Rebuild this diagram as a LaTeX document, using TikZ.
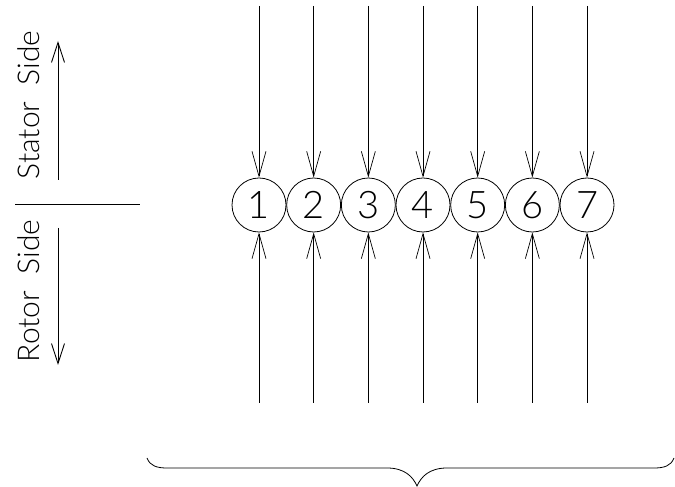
\documentclass[tikz,border=0pt]{standalone}
\usepackage{fontspec}
\setmainfont{Lato}[UprightFont=* Light, Numbers=Lining]
\usetikzlibrary{arrows.meta, positioning}

\tikzset{
  slot/.style={circle, draw, line width=0.8pt, minimum size=54pt, inner sep=0pt, font=\fontsize{38}{38}\selectfont},
  flux/.style={line width=0.7pt, -{Straight Barb[length=25pt, width=14pt, line width=0.7pt]}},
  side/.style={line width=0.9pt, -{Straight Barb[length=20pt, width=13pt, line width=0.9pt]}},
  sidelabel/.style={rotate=90, font=\fontsize{30}{30}\selectfont}
}

\begin{document}
\begin{tikzpicture}[x=1pt, y=1pt]
  \useasboundingbox (0,0) rectangle (675,487);

  % conductor slots with flux lines
  \foreach \i in {1,...,7} {
    \pgfmathsetmacro{\xc}{259 + (\i-1)*54.67}
    \node[slot] (c\i) at (\xc, 282) {\i};
    \coordinate (t\i) at (\xc, 481);
    \coordinate (b\i) at (\xc, 84);
    \draw[flux] (t\i) -- (c\i.north);
    \draw[flux] (b\i) -- (c\i.south);
  }

  % stator / rotor sides
  \coordinate (sa) at (58, 307);
  \coordinate (sb) at (58, 446);
  \coordinate (ra) at (58, 259);
  \coordinate (rb) at (58, 122);
  \coordinate (gl) at (15, 283);
  \coordinate (gr) at (140, 283);
  \draw[side] (sa) -- (sb);
  \draw[side] (ra) -- (rb);
  \draw[line width=0.9pt] (gl) -- (gr);
  \node[sidelabel] (stator) at (29, 382) {Stator\ \ Side};
  \node[sidelabel] (rotor) at (29, 196) {Rotor\ \ Side};

  % brace
  \draw[line width=0.8pt] (147,29) .. controls (150,21) and (157,19) .. (167,19) -- (387,19)
    .. controls (405,19) and (413,10) .. (417,1) .. controls (421,10) and (429,19) .. (447,19)
    -- (654,19) .. controls (664,19) and (671,21) .. (674,29);
\end{tikzpicture}
\end{document}
